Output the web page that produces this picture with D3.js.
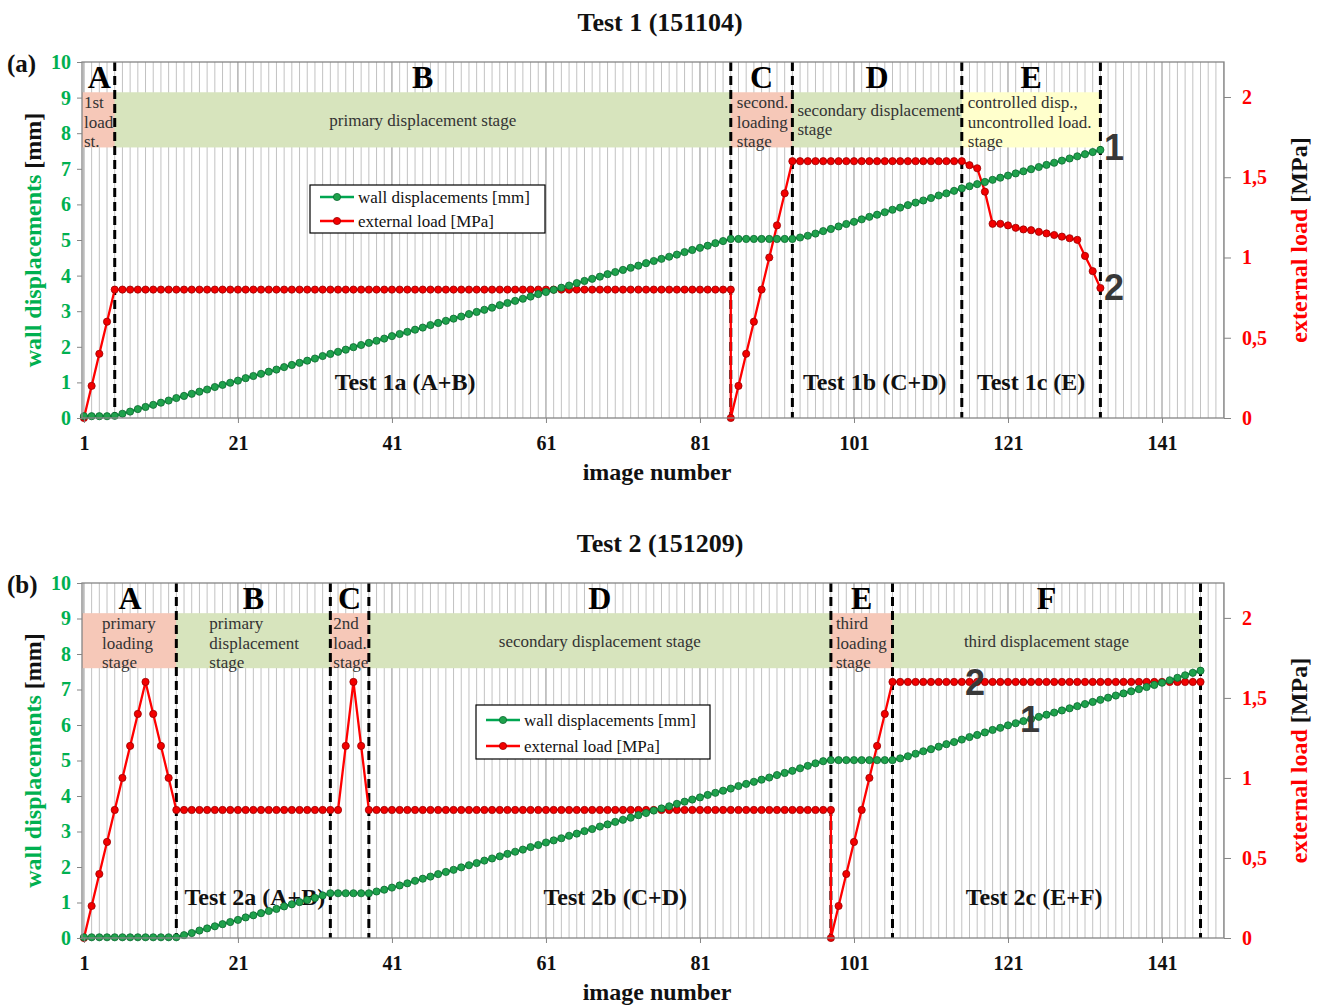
<!DOCTYPE html>
<html><head><meta charset="utf-8">
<script src="https://cdn.jsdelivr.net/npm/d3@7"></script>
<style>
body{margin:0;background:#fff}
text{font-family:"Liberation Serif","Times New Roman",serif}
text.num{font-family:"Liberation Sans",Arial,sans-serif}
</style>
</head><body><script>
// ---------------- DATA ----------------
const imageTicks = [1, 21, 41, 61, 81, 101, 121, 141];
const dispTicks = [0, 1, 2, 3, 4, 5, 6, 7, 8, 9, 10];
const loadTicks = [0, 0.5, 1, 1.5, 2];
const loadTickLabels = ["0", "0,5", "1", "1,5", "2"];
const seriesNames = ["wall displacements [mm]", "external load [MPa]"];
const axisTitles = {left: ["wall displacements ", "[mm]"], right: ["external load ", "[MPa]"], bottom: "image number"};

// Test 1 (151104): values for images 1..133
const test1Disp = [
  0.05,0.05,0.05,0.05,0.06,
  0.12,0.18,0.25,0.31,0.37,0.43,0.49,0.56,0.62,0.68,
  0.74,0.80,0.87,0.93,0.99,1.05,1.12,1.18,1.24,1.30,
  1.36,1.43,1.49,1.55,1.61,1.67,1.74,1.80,1.86,1.92,
  1.99,2.05,2.11,2.17,2.23,2.30,2.36,2.42,2.48,2.54,
  2.61,2.67,2.73,2.79,2.85,2.92,2.98,3.04,3.10,3.17,
  3.23,3.29,3.35,3.41,3.48,3.54,3.60,3.66,3.72,3.79,
  3.85,3.91,3.97,4.04,4.10,4.16,4.22,4.28,4.35,4.41,
  4.47,4.53,4.59,4.66,4.72,4.78,4.84,4.91,4.97,5.03,
  5.03,5.03,5.03,5.03,5.03,5.03,5.03,5.03,
  5.07,5.12,5.18,5.25,5.31,5.38,5.45,5.51,5.58,5.65,
  5.71,5.78,5.85,5.91,5.98,6.05,6.11,6.18,6.25,6.31,6.38,6.45,
  6.51,6.57,6.63,6.69,6.75,6.81,6.87,6.93,6.99,7.05,
  7.11,7.17,7.23,7.29,7.35,7.41,7.47,7.53
];
const test1Load = [
  0,0.2,0.4,0.6,0.8,
  0.8,0.8,0.8,0.8,0.8,0.8,0.8,0.8,0.8,0.8,
  0.8,0.8,0.8,0.8,0.8,0.8,0.8,0.8,0.8,0.8,
  0.8,0.8,0.8,0.8,0.8,0.8,0.8,0.8,0.8,0.8,
  0.8,0.8,0.8,0.8,0.8,0.8,0.8,0.8,0.8,0.8,
  0.8,0.8,0.8,0.8,0.8,0.8,0.8,0.8,0.8,0.8,
  0.8,0.8,0.8,0.8,0.8,0.8,0.8,0.8,0.8,0.8,
  0.8,0.8,0.8,0.8,0.8,0.8,0.8,0.8,0.8,0.8,
  0.8,0.8,0.8,0.8,0.8,0.8,0.8,0.8,0.8,0.8,
  0.2,0.4,0.6,0.8,1.0,1.2,1.4,1.6,
  1.6,1.6,1.6,1.6,1.6,1.6,1.6,1.6,1.6,1.6,1.6,
  1.6,1.6,1.6,1.6,1.6,1.6,1.6,1.6,1.6,1.6,1.6,
  1.575,1.556,1.41,1.21,1.21,1.20,1.185,1.175,1.17,1.16,
  1.15,1.14,1.13,1.12,1.11,1.01,0.915,0.81
];
const test1LoadDrop = [85, 0];          // unloading to 0 at image 85
const test1Bounds = [1, 5, 85, 93, 115, 133];
const test1Stages = ["A", "B", "C", "D", "E"];
const test1Kinds = ["load", "disp", "load", "disp", "mixed"];
const test1Notes = [["1st","load","st."], ["primary displacement stage"], ["second.","loading","stage"],
                    ["secondary displacement","stage"], ["controlled disp.,","uncontrolled load.","stage"]];
const test1Parts = ["Test 1a (A+B)", "Test 1b (C+D)", "Test 1c (E)"];

// Test 2 (151209): values for images 1..146
const test2Disp = [
  0.02,0.02,0.02,0.02,0.02,0.02,0.02,0.02,0.02,0.02,0.02,0.02,0.02,
  0.08,0.14,0.21,0.27,0.33,0.39,0.45,0.51,0.58,0.64,
  0.70,0.76,0.82,0.89,0.95,1.01,1.07,1.13,1.20,1.26,
  1.26,1.26,1.26,1.26,1.26,
  1.31,1.36,1.42,1.48,1.54,1.61,1.67,1.73,1.80,1.86,
  1.92,1.99,2.05,2.11,2.18,2.24,2.30,2.37,2.43,2.49,
  2.56,2.62,2.69,2.75,2.81,2.88,2.94,3.01,3.07,3.14,
  3.20,3.27,3.33,3.39,3.46,3.52,3.59,3.65,3.71,3.78,
  3.84,3.90,3.96,4.03,4.09,4.15,4.21,4.28,4.34,4.40,
  4.46,4.52,4.59,4.65,4.71,4.78,4.85,4.92,4.98,5.01,
  5.01,5.01,5.01,5.01,5.01,5.01,5.01,5.01,
  5.06,5.12,5.19,5.26,5.32,5.39,5.46,5.52,5.59,5.66,
  5.72,5.79,5.86,5.92,5.99,6.05,6.11,6.17,6.23,6.29,
  6.35,6.41,6.47,6.53,6.59,6.65,6.71,6.77,6.83,6.89,
  6.95,7.01,7.07,7.13,7.19,7.26,7.33,7.40,7.47,7.53
];
const test2Load = [
  0,0.2,0.4,0.6,0.8,1.0,1.2,1.4,1.6,1.4,1.2,1.0,0.8,
  0.8,0.8,0.8,0.8,0.8,0.8,0.8,0.8,0.8,0.8,0.8,
  0.8,0.8,0.8,0.8,0.8,0.8,0.8,0.8,0.8,0.8,
  1.2,1.6,1.2,0.8,
  0.8,0.8,0.8,0.8,0.8,0.8,0.8,0.8,0.8,0.8,
  0.8,0.8,0.8,0.8,0.8,0.8,0.8,0.8,0.8,0.8,
  0.8,0.8,0.8,0.8,0.8,0.8,0.8,0.8,0.8,0.8,
  0.8,0.8,0.8,0.8,0.8,0.8,0.8,0.8,0.8,0.8,
  0.8,0.8,0.8,0.8,0.8,0.8,0.8,0.8,0.8,0.8,
  0.8,0.8,0.8,0.8,0.8,0.8,0.8,0.8,0.8,0.8,
  0.2,0.4,0.6,0.8,1.0,1.2,1.4,1.6,
  1.6,1.6,1.6,1.6,1.6,1.6,1.6,1.6,1.6,1.6,
  1.6,1.6,1.6,1.6,1.6,1.6,1.6,1.6,1.6,1.6,
  1.6,1.6,1.6,1.6,1.6,1.6,1.6,1.6,1.6,1.6,
  1.6,1.6,1.6,1.6,1.6,1.6,1.6,1.6,1.6,1.6
];
const test2LoadDrop = [98, 0];          // unloading to 0 at image 98
const test2Bounds = [1, 13, 33, 38, 98, 106, 146];
const test2Stages = ["A", "B", "C", "D", "E", "F"];
const test2Kinds = ["load", "disp", "load", "disp", "load", "disp"];
const test2Notes = [["primary","loading","stage"], ["primary","displacement","stage"], ["2nd","load.","stage"],
                    ["secondary displacement stage"], ["third","loading","stage"], ["third displacement stage"]];
const test2Parts = ["Test 2a (A+B)", "Test 2b (C+D)", "Test 2c (E+F)"];

// ---------------- LAYOUT ----------------
const W = 1321, H = 1007;
const stageFill = {load: "#f6c8b8", disp: "#d7e4bd", mixed: "#ffffcc"};
const GREEN = "#00a651", GREEN_TXT = "#00b050", RED = "#ff0000";
const panels = [
  {title: "Test 1 (151104)", tag: "(a)", top: 62, bottom: 418,
   disp: test1Disp, load: test1Load, drop: test1LoadDrop,
   bounds: test1Bounds, stages: test1Stages, kinds: test1Kinds, notes: test1Notes,
   noteX: [2, "mid", 6, 5, 6],
   parts: test1Parts, partX: [42.7, 103.7, 124], partBase: 390,
   legend: {x: 310, y: 185, w: 235, h: 48, r1: 12, r2: 36},
   marks: [{t: "1", x: 1104, y: 160}, {t: "2", x: 1104, y: 300}]},
  {title: "Test 2 (151209)", tag: "(b)", top: 583, bottom: 938,
   disp: test2Disp, load: test2Load, drop: test2LoadDrop,
   bounds: test2Bounds, stages: test2Stages, kinds: test2Kinds, notes: test2Notes,
   noteX: [20, 33, 3, "mid", 5, "mid"],
   parts: test2Parts, partX: [23.2, 70, 124.4], partBase: 905,
   legend: {x: 476, y: 705, w: 234, h: 54, r1: 15, r2: 41},
   marks: [{t: "2", x: 965, y: 695}, {t: "1", x: 1020, y: 732}]}
];

const svg = d3.select("body").append("svg").attr("width", W).attr("height", H);
const x = d3.scaleLinear().domain([0.75, 149.05]).range([82, 1224]);
const X0 = x.range()[0], X1 = x.range()[1];

function drawPanel(p) {
  const g = svg.append("g");
  const yL = d3.scaleLinear().domain([0, 10]).range([p.bottom, p.top]);
  const yR = d3.scaleLinear().domain([0, 2.218]).range([p.bottom, p.top]);

  // vertical gridlines at every image
  g.append("g").selectAll("line").data(d3.range(1, 150)).join("line")
    .attr("x1", d => x(d)).attr("x2", d => x(d))
    .attr("y1", p.top).attr("y2", p.bottom)
    .attr("stroke", d => imageTicks.includes(d) ? "#8c8c8c" : "#c2c2c2")
    .attr("stroke-width", 1);

  const st = p.stages.map((n, i) => ({name: n, from: p.bounds[i], to: p.bounds[i + 1],
    kind: p.kinds[i], notes: p.notes[i], nx: p.noteX[i]}));

  // stage bands
  const bTop = yL(9.15), bBot = yL(7.6);
  g.append("g").selectAll("rect").data(st).join("rect")
    .attr("x", d => d.from === 1 ? X0 : x(d.from))
    .attr("width", d => x(d.to) - (d.from === 1 ? X0 : x(d.from)))
    .attr("y", bTop).attr("height", bBot - bTop)
    .attr("fill", d => stageFill[d.kind]);

  // stage notes
  const offs = {1: [34], 2: [24, 43], 3: [16, 35.5, 55]};
  st.forEach(d => {
    const mid = d.nx === "mid";
    const tx = mid ? (x(d.from) + x(d.to)) / 2 : (d.from === 1 ? X0 : x(d.from)) + d.nx;
    d.notes.forEach((line, k) => {
      g.append("text").attr("x", tx).attr("y", bTop + offs[d.notes.length][k])
        .attr("text-anchor", mid ? "middle" : "start")
        .attr("font-size", 17).attr("fill", "#333").text(line);
    });
  });

  // stage letters
  g.append("g").selectAll("text").data(st).join("text")
    .attr("x", d => (x(d.from) + x(d.to)) / 2).attr("y", p.top + 26)
    .attr("text-anchor", "middle").attr("font-size", 32).attr("font-weight", "bold")
    .text(d => d.name);

  // sub-test labels
  p.parts.forEach((t, i) => {
    g.append("text").attr("x", x(p.partX[i])).attr("y", p.partBase)
      .attr("text-anchor", "middle").attr("font-size", 24).attr("font-weight", "bold")
      .attr("fill", "#111").text(t);
  });

  // stage boundaries (dashed)
  g.append("g").selectAll("line").data(p.bounds.slice(1)).join("line")
    .attr("x1", d => x(d)).attr("x2", d => x(d)).attr("y1", p.top).attr("y2", p.bottom)
    .attr("stroke", "#000").attr("stroke-width", 3).attr("stroke-dasharray", "9,5");

  // series
  const loadPts = [];
  p.load.forEach((v, i) => {
    loadPts.push([i + 1, v]);
    if (i + 1 === p.drop[0]) loadPts.push([p.drop[0], p.drop[1]]);
  });
  const dispPts = p.disp.map((v, i) => [i + 1, v]);

  const lineR = d3.line().x(d => x(d[0])).y(d => yR(d[1]));
  const lineL = d3.line().x(d => x(d[0])).y(d => yL(d[1]));

  g.append("path").datum(loadPts).attr("d", lineR).attr("fill", "none")
    .attr("stroke", RED).attr("stroke-width", 2.3);
  g.append("g").selectAll("circle").data(loadPts).join("circle")
    .attr("cx", d => x(d[0])).attr("cy", d => yR(d[1])).attr("r", 3.6)
    .attr("fill", "#f20000").attr("stroke", "#9a0000").attr("stroke-width", 0.8);

  g.append("path").datum(dispPts).attr("d", lineL).attr("fill", "none")
    .attr("stroke", GREEN).attr("stroke-width", 2.2);
  g.append("g").selectAll("circle").data(dispPts).join("circle")
    .attr("cx", d => x(d[0])).attr("cy", d => yL(d[1])).attr("r", 3.6)
    .attr("fill", "#1fa24c").attr("stroke", "#0b6a30").attr("stroke-width", 0.8);

  // plot border
  g.append("rect").attr("x", X0).attr("y", p.top).attr("width", X1 - X0)
    .attr("height", p.bottom - p.top).attr("fill", "none").attr("stroke", "#858585").attr("stroke-width", 1.3);

  // axes
  const ax = g.append("g").attr("transform", `translate(${X0},0)`)
    .call(d3.axisLeft(yL).tickValues(dispTicks).tickSize(5).tickPadding(6).tickFormat(d3.format("d")));
  ax.select(".domain").remove();
  ax.selectAll("line").attr("stroke", "#858585");
  ax.selectAll("text").attr("font-size", 20).attr("font-weight", "bold").attr("fill", GREEN_TXT)
    .attr("font-family", "Liberation Serif");

  const ar = g.append("g").attr("transform", `translate(${X1},0)`)
    .call(d3.axisRight(yR).tickValues(loadTicks).tickSize(7).tickPadding(11)
      .tickFormat((d, i) => loadTickLabels[i]));
  ar.select(".domain").remove();
  ar.selectAll("line").attr("stroke", "#858585");
  ar.selectAll("text").attr("font-size", 20).attr("font-weight", "bold").attr("fill", RED)
    .attr("font-family", "Liberation Serif");

  const ab = g.append("g").attr("transform", `translate(0,${p.bottom})`)
    .call(d3.axisBottom(x).tickValues(imageTicks).tickSize(5).tickFormat(d3.format("d")));
  ab.select(".domain").remove();
  ab.selectAll("line").attr("stroke", "#858585");
  ab.selectAll("text").attr("font-size", 20).attr("font-weight", "bold").attr("fill", "#111")
    .attr("font-family", "Liberation Serif").attr("y", 32).attr("dy", null);

  // axis titles
  const tl = g.append("text").attr("transform", `translate(41,${(p.top + p.bottom) / 2}) rotate(-90)`)
    .attr("text-anchor", "middle").attr("font-size", 24).attr("font-weight", "bold");
  tl.append("tspan").attr("fill", GREEN_TXT).text(axisTitles.left[0]);
  tl.append("tspan").attr("fill", "#111").text(axisTitles.left[1]);
  const tr = g.append("text").attr("transform", `translate(1307,${(p.top + p.bottom) / 2}) rotate(-90)`)
    .attr("text-anchor", "middle").attr("font-size", 24).attr("font-weight", "bold");
  tr.append("tspan").attr("fill", RED).text(axisTitles.right[0]);
  tr.append("tspan").attr("fill", "#111").text(axisTitles.right[1]);
  g.append("text").attr("x", 657).attr("y", p.bottom + 62).attr("text-anchor", "middle")
    .attr("font-size", 24).attr("font-weight", "bold").attr("fill", "#111").text(axisTitles.bottom);

  // legend
  const L = p.legend;
  const lg = g.append("g").attr("transform", `translate(${L.x},${L.y})`);
  lg.append("rect").attr("width", L.w).attr("height", L.h).attr("fill", "#fff")
    .attr("stroke", "#000").attr("stroke-width", 1.2);
  const items = [{name: seriesNames[0], c: GREEN, f: "#1fa24c", s: "#0b6a30", y: L.r1},
                 {name: seriesNames[1], c: RED, f: "#f20000", s: "#9a0000", y: L.r2}];
  items.forEach(it => {
    lg.append("line").attr("x1", 10).attr("x2", 44).attr("y1", it.y).attr("y2", it.y)
      .attr("stroke", it.c).attr("stroke-width", 2.5);
    lg.append("circle").attr("cx", 27).attr("cy", it.y).attr("r", 3.6)
      .attr("fill", it.f).attr("stroke", it.s).attr("stroke-width", 0.8);
    lg.append("text").attr("x", 48).attr("y", it.y + 6).attr("font-size", 17)
      .attr("fill", "#111").text(it.name);
  });

  // curve numbers
  p.marks.forEach(m => {
    g.append("text").attr("class", "num").attr("x", m.x).attr("y", m.y)
      .style("font-family", "'Liberation Sans', Arial, sans-serif")
      .attr("font-size", 36).attr("font-weight", "bold")
      .attr("fill", "#383838").text(m.t);
  });

  // titles
  g.append("text").attr("x", 660).attr("y", p.top - 31).attr("text-anchor", "middle")
    .attr("font-size", 26).attr("font-weight", "bold").attr("fill", "#111").text(p.title);
  g.append("text").attr("x", 7).attr("y", p.top + 10).attr("font-size", 25)
    .attr("font-weight", "bold").attr("fill", "#111").text(p.tag);
}

panels.forEach(drawPanel);
</script></body></html>
